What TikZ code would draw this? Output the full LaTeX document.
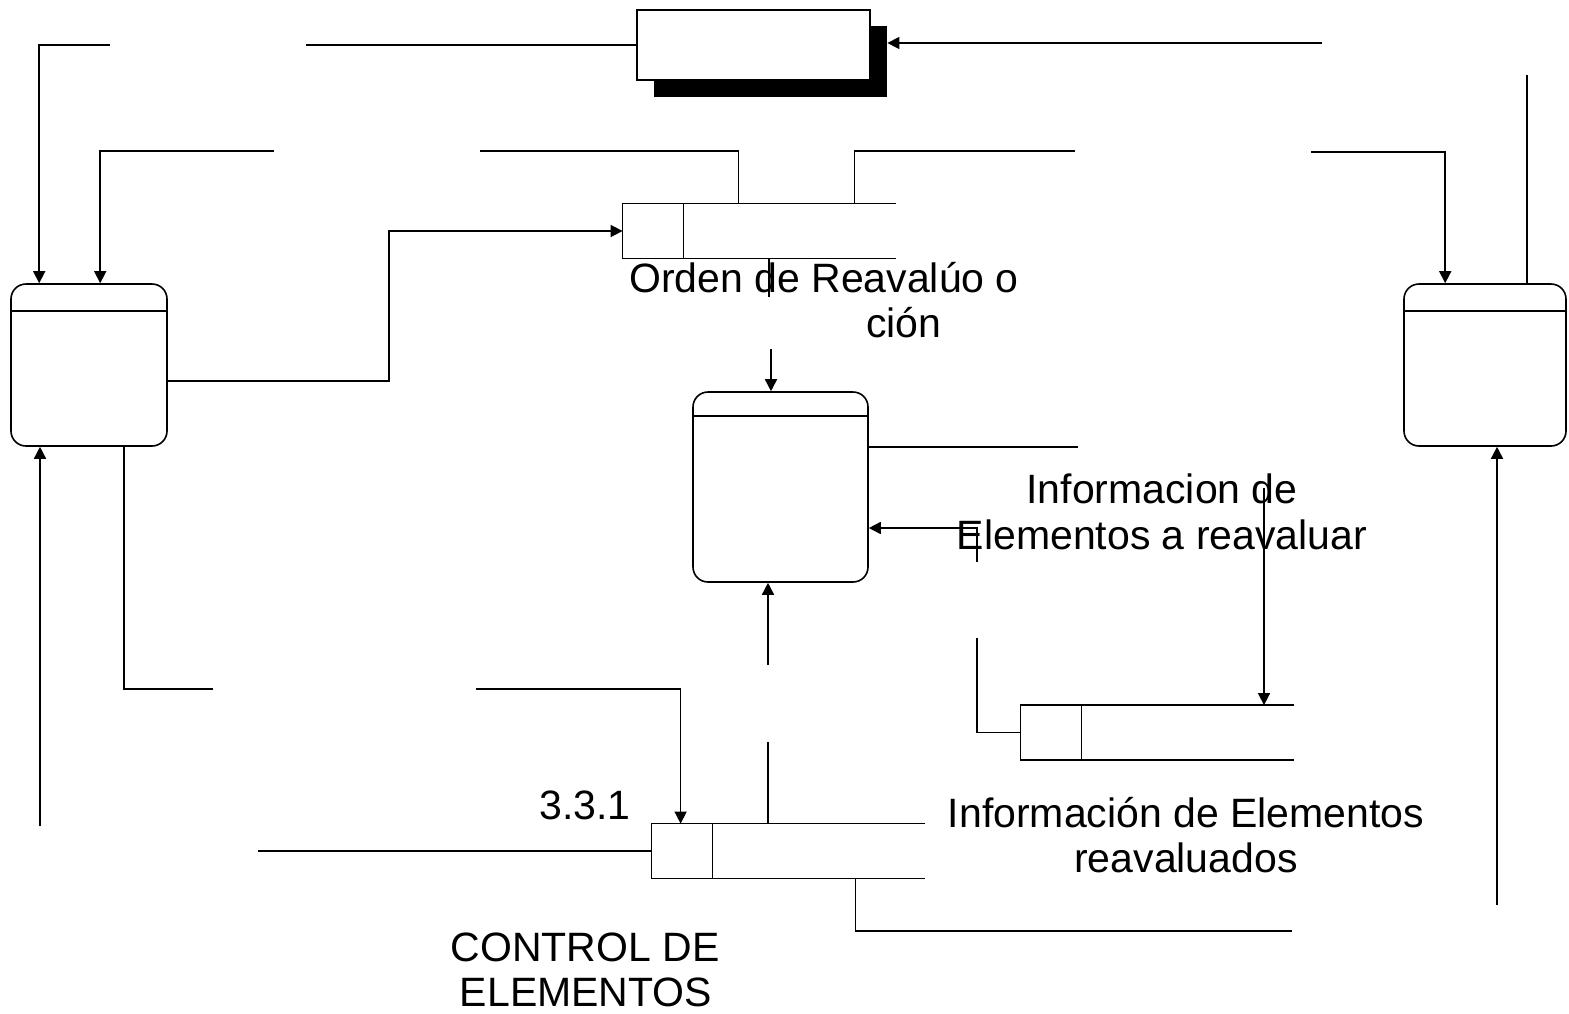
\documentclass[tikz,border=0pt]{standalone}
\usepackage{fontspec}
\setmainfont{Liberation Sans}
\usetikzlibrary{arrows.meta}
\tikzset{
  ln/.style={line width=0.8pt},
  arr/.style={ln, -{Triangle[length=6pt,width=6pt]}},
  proc/.style={draw, ln, rounded corners=7.5pt, inner sep=0pt},
  storebox/.style={inner sep=0pt, minimum height=27pt, minimum width=136.5pt},
  lbl/.style={inner sep=0pt, font=\fontsize{20.5pt}{23pt}\selectfont},
}
\begin{document}
\begin{tikzpicture}[x=0.5pt, y=-0.5pt]
\useasboundingbox (0,0) rectangle (1569,1013);
\fill[white] (0,0) rectangle (1569,1013);

% top external entity with shadow
\node[fill=black, inner sep=0pt, minimum width=116.5pt, minimum height=35.5pt] (shadow) at (770.5,61.5) {};
\node[draw, ln, fill=white, inner sep=0pt, minimum width=116.5pt, minimum height=35pt] (top) at (753.5,45) {};

% processes
\node[proc, minimum width=78pt, minimum height=81pt] (lp) at (89,365) {};
\node[proc, minimum width=81pt, minimum height=81pt] (rp) at (1485,365) {};
\node[proc, minimum width=87.5pt, minimum height=95pt] (cp) at (780.5,487) {};
\draw[ln] (lp.west |- 0,311) -- (lp.east |- 0,311);
\draw[ln] (rp.west |- 0,311) -- (rp.east |- 0,311);
\draw[ln] (cp.west |- 0,416) -- (cp.east |- 0,416);

% data stores
\node[storebox] (sA) at (759.5,231) {};
\node[storebox] (sB) at (1157.5,732.5) {};
\node[storebox] (sC) at (788.5,851) {};
\foreach \s in {sA,sB,sC}{
  \draw[ln] (\s.north east) -- (\s.north west) -- (\s.south west) -- (\s.south east);
  \draw[ln] ([xshift=30.5pt]\s.north west) -- ([xshift=30.5pt]\s.south west);
}

% labels
\node[lbl, anchor=base] (l1) at (824,292) {Orden de Reavalúo o};
\node[lbl, anchor=base east] (l2) at (942,337) {ción};
\node[lbl, anchor=base] (l3) at (1162,503) {Informacion de};
\node[lbl, anchor=base] (l4) at (1162,549) {Elementos a reavaluar};
\node[lbl, anchor=base] (l5) at (585,819) {3.3.1};
\node[lbl, anchor=base] (l6) at (1186,827) {Información de Elementos};
\node[lbl, anchor=base] (l7) at (1186,872) {reavaluados};
\node[lbl, anchor=base] (l8) at (585,961) {CONTROL DE};
\node[lbl, anchor=base] (l9) at (586,1006) {ELEMENTOS};

% free ends
\coordinate (c1) at (306,45);
\coordinate (c2) at (1322,43);
\coordinate (c3) at (110,45);
\coordinate (c4) at (274,151);
\coordinate (c5) at (389,381);
\coordinate (c6) at (480,151);
\coordinate (c7) at (1075,151);
\coordinate (c8) at (1311,152);
\coordinate (c9) at (1527,75);
\coordinate (c10) at (1497,905);
\coordinate (c11) at (769,297);
\coordinate (c12) at (771,349);
\coordinate (c13) at (1078,447);
\coordinate (c14) at (977,562);
\coordinate (c14b) at (977,528);
\coordinate (c15) at (1264,488);
\coordinate (c16) at (977,638);
\coordinate (c17) at (213,689);
\coordinate (c18) at (476,689);
\coordinate (c19) at (40,826);
\coordinate (c20) at (258,851);
\coordinate (c21) at (768,742);
\coordinate (c22) at (768,665);
\coordinate (c23) at (1292,931);

% connectors
\draw[ln] (c1) -- (c1 -| top.west);
\draw[arr] (c2) -- (c2 -| shadow.east);
\draw[arr] (c3) -| ([xshift=14.5pt]lp.north west);
\draw[arr] (c4) -| ([xshift=45pt]lp.north west);
\draw[arr] (c5 -| lp.east) -- (c5) |- (sA.west);
\draw[ln] (c6) -| ([xshift=58pt]sA.north west);
\draw[ln] (c7) -| ([xshift=116pt]sA.north west);
\draw[arr] (c8) -| ([xshift=21pt]rp.north west);
\draw[ln] (c9) -- (c9 |- rp.north);
\draw[arr] (c10) -- (c10 |- rp.south);
\draw[ln] (c11 |- sA.south) -- (c11);
\draw[arr] (c12) -- (c12 |- cp.north);
\draw[ln] (c13 -| cp.east) -- (c13);
\draw[arr] (c14) -- (c14b) -- (c14b -| cp.east);
\draw[arr] (c15) -- (c15 |- sB.north);
\draw[ln] (c16) |- (sB.west);
\draw[ln] ([xshift=57pt]lp.south west) |- (c17);
\draw[arr] (c18) -| ([xshift=14.5pt]sC.north west);
\draw[arr] (c19) -- (c19 |- lp.south);
\draw[ln] (c20) -- (sC.west);
\draw[ln] (c21 |- sC.north) -- (c21);
\draw[arr] (c22) -- (c22 |- cp.south);
\draw[ln] ([xshift=102pt]sC.south west) |- (c23);
\end{tikzpicture}
\end{document}
